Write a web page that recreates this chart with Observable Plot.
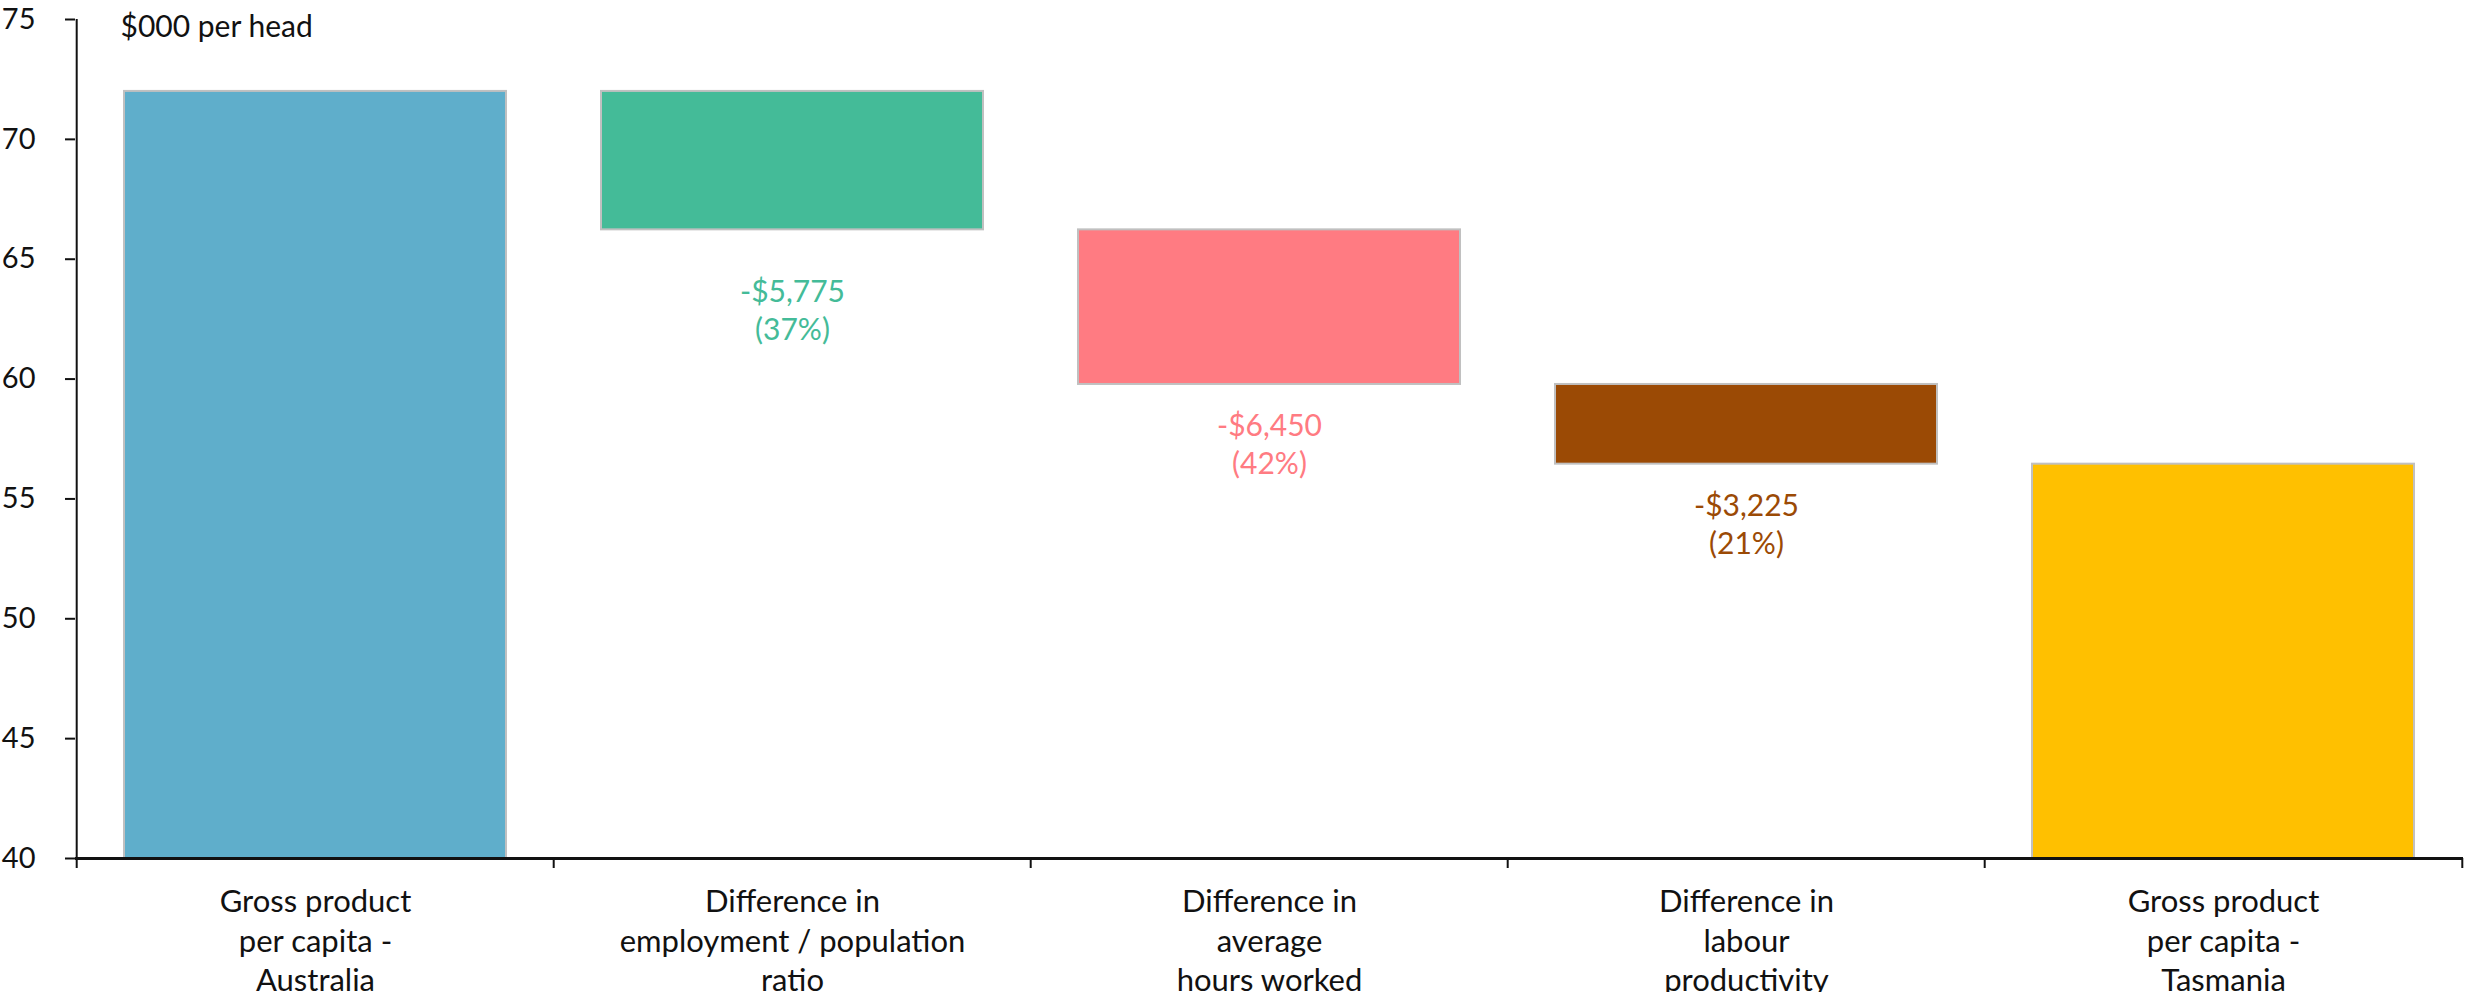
<!DOCTYPE html>
<html>
<head>
<meta charset="utf-8">
<script src="https://cdn.jsdelivr.net/npm/d3@7"></script>
<script src="https://cdn.jsdelivr.net/npm/@observablehq/plot@0.6"></script>
<style>
  html, body { margin: 0; padding: 0; background: #ffffff; }
  svg { display: block; }
</style>
</head>
<body>
<div id="chart"></div>
<script>
// ---- data ----
const categories = [
  "Gross product\nper capita -\nAustralia",
  "Difference in\nemployment / population\nratio",
  "Difference in\naverage\nhours worked",
  "Difference in\nlabour\nproductivity",
  "Gross product\nper capita -\nTasmania"
];
const startValue = 72.0;                       // Australia, $000 per head
const runningTotals = [66.225, 59.775, 56.45]; // level after each difference
const endValue = 56.45;                        // Tasmania
const baseValue = 40;
const barColors = ["#5faecb", "#44bb98", "#ff7b82", "#9b4a05", "#ffc000"];
const diffLabels = ["-$5,775\n(37%)", "-$6,450\n(42%)", "-$3,225\n(21%)"];
const diffLabelY = [62.95, 57.33, 54.02];
const yTicks = [40, 45, 50, 55, 60, 65, 70, 75];
const unitLabel = "$000 per head";

// ---- table ----
const rows = [];
rows.push({cat: categories[0], lo: baseValue, hi: startValue, color: barColors[0]});
let prev = startValue;
runningTotals.forEach((v, i) => {
  rows.push({cat: categories[i + 1], lo: v, hi: prev, color: barColors[i + 1]});
  prev = v;
});
rows.push({cat: categories[4], lo: baseValue, hi: endValue, color: barColors[4]});

const labelRows = diffLabels.map((t, i) => ({cat: categories[i + 1], y: diffLabelY[i], text: t, color: barColors[i + 1]}));

// ---- layout ----
const W = 2467, H = 992;
const mL = 75, mR = 4, mT = 19, mB = 134;
const step = (W - mL - mR) / categories.length;
const FONT = "Lato, 'Noto Sans', sans-serif";

const chart = Plot.plot({
  width: W,
  height: H,
  marginLeft: mL,
  marginRight: mR,
  marginTop: mT,
  marginBottom: mB,
  style: {fontFamily: FONT, background: "#ffffff", color: "#111"},
  x: {domain: categories, paddingInner: 0.2, paddingOuter: 0.1, label: null},
  y: {domain: [40, 75], label: null},
  marks: [
    Plot.barY(rows, {x: "cat", y1: "lo", y2: "hi", fill: "color", stroke: "#c0c0c0", strokeWidth: 2}),
    Plot.text(labelRows, {x: "cat", y: "y", text: "text", fill: "color", fontSize: 30, lineHeight: 1.27, lineAnchor: "middle"}),
    Plot.ruleY([baseValue], {stroke: "#111", strokeWidth: 3}),
    // y axis line at the left boundary of the first band
    Plot.ruleX([categories[0]], {x: d => d, dx: -step / 2, y1: 40, y2: 75, stroke: "#111", strokeWidth: 2}),
    Plot.axisY({ticks: yTicks, tickSize: 10, tickPadding: 30, fontSize: 29, stroke: "#111", strokeWidth: 2, fill: "#111", label: null}),
    // boundary tick marks below the x axis
    Plot.axisX({tickSize: 10, tickFormat: () => "", dx: -step / 2, stroke: "#111", strokeWidth: 2, label: null}),
    Plot.axisX({ticks: [categories[categories.length - 1]], tickSize: 10, tickFormat: () => "", dx: step / 2, stroke: "#111", strokeWidth: 2, label: null}),
    // category labels
    Plot.axisX({tickSize: 0, tickPadding: 26, fontSize: 31, lineHeight: 1.27, fill: "#111", label: null}),
    Plot.text([unitLabel], {frameAnchor: "top-left", dx: 45, dy: 8, lineAnchor: "middle", textAnchor: "start", fontSize: 30, fill: "#111"})
  ]
});
document.getElementById("chart").appendChild(chart);
</script>
</body>
</html>
